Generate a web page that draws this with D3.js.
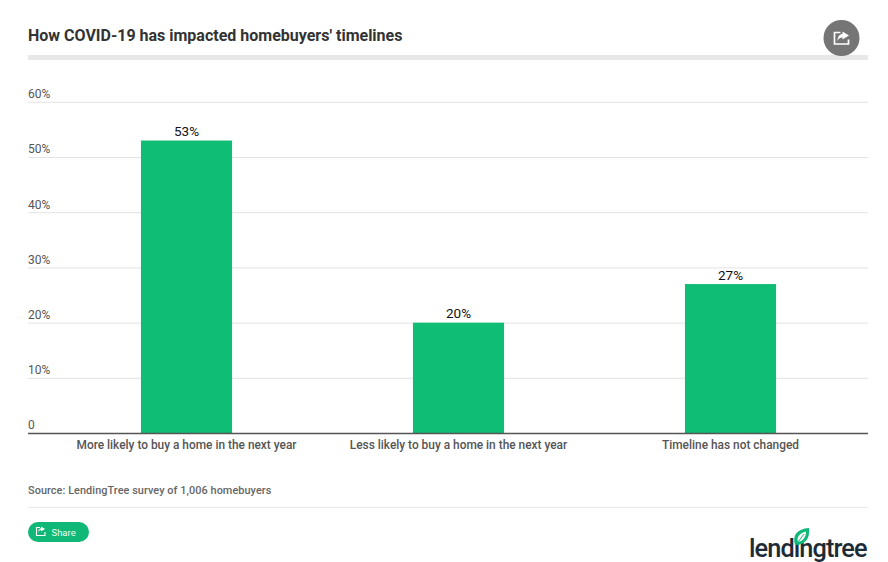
<!DOCTYPE html>
<html><head><meta charset="utf-8">
<script src="https://cdn.jsdelivr.net/npm/d3@7/dist/d3.min.js"></script>
<style>html,body{margin:0;padding:0;background:#fff}svg{display:block}text{font-family:Roboto,sans-serif}</style>
</head><body><svg id="c" width="888" height="562"></svg>
<script>
const categories = ["More likely to buy a home in the next year","Less likely to buy a home in the next year","Timeline has not changed"];
const values = [53,20,27];
const yTicks = [0,10,20,30,40,50,60];
const svg = d3.select("#c");
const L=28,R=868;
const y = d3.scaleLinear().domain([0,60]).range([433.5,102.3]);
const x = d3.scaleBand().domain(categories).range([50.5,866.5]).paddingInner(0.665).paddingOuter(0.3325);

svg.append("text").attr("x",L).attr("y",40.5).attr("font-size",16).attr("font-weight",700).attr("fill","#333").text("How COVID-19 has impacted homebuyers' timelines");
svg.append("rect").attr("x",L).attr("y",55).attr("width",R-L).attr("height",5).attr("fill","#e8e8e8");

// share circle
const sh = svg.append("g").attr("transform","translate(841.5,38)");
sh.append("circle").attr("r",18).attr("fill","#757575");
sh.append("path").attr("d","M-1-5.5H-7V6H7V1.5").attr("fill","none").attr("stroke","#fff").attr("stroke-width",1.7);
sh.append("path").attr("d","M1-6.5L7.5-2.5L1,1.5V-0.5C-1.5-0.5-3,0.5-4,3C-4-1.5-1.5-4,1-4.3Z").attr("fill","#fff");

// grid
svg.append("g").selectAll("line").data(yTicks.filter(d=>d>0)).join("line")
  .attr("x1",L).attr("x2",R).attr("y1",d=>y(d)).attr("y2",d=>y(d)).attr("stroke","#e3e3e3").attr("stroke-width",1);
svg.append("g").selectAll("text").data(yTicks).join("text")
  .attr("x",L).attr("y",d=>y(d)-4.2).attr("font-size",12).attr("fill","#555")
  .text(d=>d===0?"0":d+"%");

// bars
svg.append("g").selectAll("rect").data(values).join("rect")
  .attr("x",(d,i)=>x(categories[i])).attr("width",x.bandwidth())
  .attr("y",d=>y(d)-0.4).attr("height",d=>y(0)-y(d)+0.4).attr("fill","#0fbd74");
svg.append("g").selectAll("text").data(values).join("text")
  .attr("x",(d,i)=>x(categories[i])+x.bandwidth()/2).attr("y",d=>y(d)-4.8)
  .attr("text-anchor","middle").attr("font-size",13.5).attr("fill","#111").text(d=>d+"%");

// baseline
svg.append("line").attr("x1",L).attr("x2",R).attr("y1",433.5).attr("y2",433.5).attr("stroke","#555").attr("stroke-width",1.6);
svg.append("g").selectAll("text").data(categories).join("text")
  .attr("x",d=>x(d)+x.bandwidth()/2).attr("y",449).attr("text-anchor","middle")
  .attr("font-size",11.9).attr("font-weight",500).attr("fill","#555").text(d=>d);

svg.append("text").attr("x",L).attr("y",493.5).attr("font-size",10.9).attr("font-weight",500).attr("fill","#666").attr("letter-spacing","0.06").text("Source: LendingTree survey of 1,006 homebuyers");
svg.append("line").attr("x1",L).attr("x2",868).attr("y1",507.5).attr("y2",507.5).attr("stroke","#eaeaea");

// share button
const b = svg.append("g").attr("transform","translate(28,522)");
b.append("rect").attr("width",61).attr("height",20).attr("rx",10).attr("fill","#10b877");
b.append("path").attr("d","M12,5.5H8.5V13.5H17V10").attr("fill","none").attr("stroke","#fff").attr("stroke-width",1.1);
b.append("path").attr("d","M13,4.5L17,7L13,9.5V8C11.5,8 10.5,8.7 10,10C10,8 11.5,6.5 13,6.3Z").attr("fill","#fff");
b.append("text").attr("x",23.5).attr("y",13.8).attr("font-size",9.5).attr("fill","#e6fff4").text("Share");

// logo
svg.append("text").attr("x",749).attr("y",557).attr("font-size",25.3).attr("font-weight",500).attr("fill","#1c2b36").attr("letter-spacing","-0.9").text("lendingtree");
svg.append("path").attr("d","M795,545C792,535 797,529 809,528C810,538 806,545 795,545Z").attr("fill","#0fb878");
svg.append("path").attr("d","M798,542C796,537 800,533 806,531.5C806,537 803,541 798,542Z").attr("fill","#fff");
svg.append("path").attr("d","M798,542L804,534").attr("stroke","#0fb878").attr("stroke-width",1).attr("fill","none");
</script></body></html>
